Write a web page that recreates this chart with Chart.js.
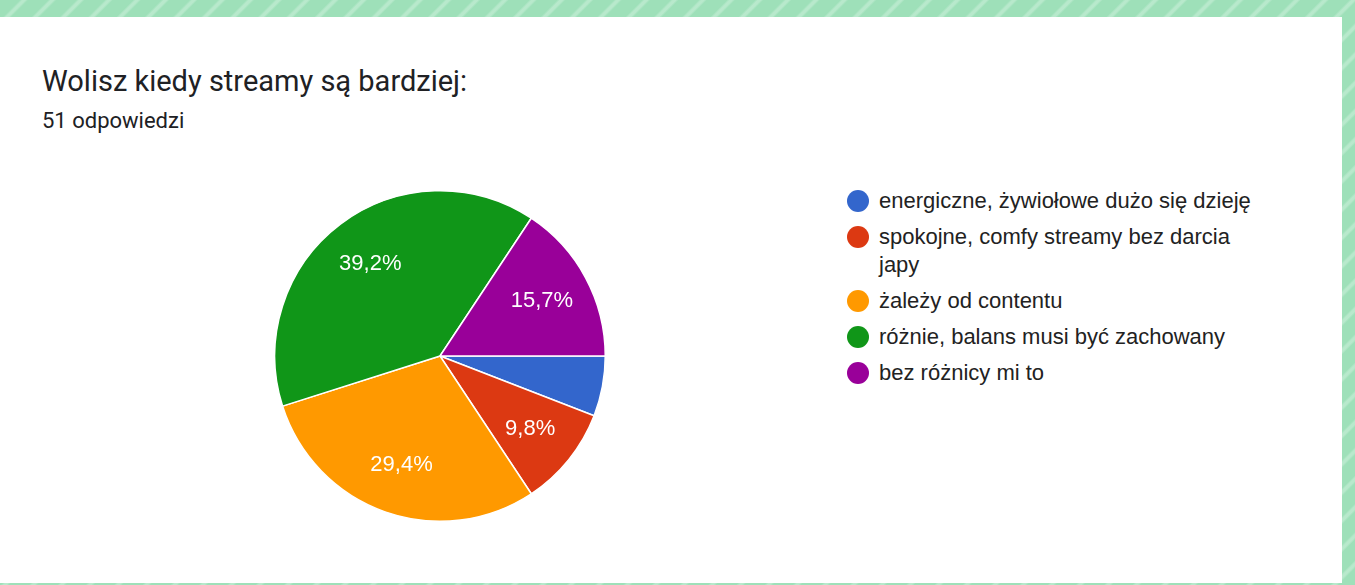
<!DOCTYPE html>
<html>
<head>
<meta charset="utf-8">
<script src="https://cdn.jsdelivr.net/npm/chart.js@4"></script>
<style>
html,body{margin:0;padding:0;}
body{
width:1355px;height:585px;overflow:hidden;position:relative;
background:#9ee0b9 repeating-linear-gradient(135deg,#9ee0b9 0px,#9ee0b9 14px,#b8e9cc 16px,#b8e9cc 18px,#9ee0b9 20px);
}
#card{position:absolute;left:0;top:17px;width:1342px;height:566px;background:#fff;}
#title{position:absolute;left:42px;top:67px;font-family:Roboto,"Noto Sans",sans-serif;font-size:29px;line-height:1;color:#202124;white-space:nowrap;}
#sub{position:absolute;left:42px;top:110px;font-family:Roboto,"Noto Sans",sans-serif;font-size:22px;line-height:1;color:#202124;white-space:nowrap;}
#wrap{position:absolute;left:274px;top:190px;width:332px;height:332px;}
#legend{position:absolute;left:847px;top:187px;width:415px;font-family:"Liberation Sans",Arial,sans-serif;font-size:22px;color:#222;}
.item{position:relative;padding-left:32px;line-height:28px;margin-bottom:8px;}
.dot{position:absolute;left:0;top:3px;width:22px;height:22px;border-radius:50%;}
</style>
</head>
<body>
<div id="card"></div>
<div id="title">Wolisz kiedy streamy są bardziej:</div>
<div id="sub">51 odpowiedzi</div>
<div id="wrap"><canvas id="pie"></canvas></div>
<div id="legend"></div>
<script>
let labels = [
"energiczne, żywiołowe dużo się dzieję",
"spokojne, comfy streamy bez darcia japy",
"żależy od contentu",
"różnie, balans musi być zachowany",
"bez różnicy mi to"
];
let counts = [3,5,15,20,8];
let colors = ["#3366cc","#dc3912","#ff9900","#109618","#990099"];

let total = counts.reduce((a,b)=>a+b,0);

function pct(v){
return (v/total*100).toFixed(1).replace(".",",")+"%";
}

// percent text inside the slices, like google charts
const sliceText = {
id:"sliceText",
afterDatasetsDraw(chart){
let ctx = chart.ctx;
let meta = chart.getDatasetMeta(0);
ctx.save();
ctx.font = "22px 'Liberation Sans', Arial, sans-serif";
ctx.fillStyle = "#fff";
ctx.textAlign = "center";
ctx.textBaseline = "middle";
meta.data.forEach((arc,i)=>{
if(counts[i]/total < 0.07) return;
let p = arc.getProps(["x","y","startAngle","endAngle","outerRadius"],true);
let mid = (p.startAngle+p.endAngle)/2;
let r = p.outerRadius*0.7;
ctx.fillText(pct(counts[i]), p.x+Math.cos(mid)*r, p.y+Math.sin(mid)*r);
});
ctx.restore();
}
};

new Chart(document.getElementById("pie"),{
type:"pie",
data:{
labels:labels,
datasets:[{data:counts,backgroundColor:colors,borderColor:"#fff",borderWidth:1.5}]
},
options:{
responsive:true,
maintainAspectRatio:false,
animation:false,
rotation:90,
layout:{padding:0},
plugins:{legend:{display:false},tooltip:{enabled:false}}
},
plugins:[sliceText]
});

let lg = document.getElementById("legend");
labels.forEach((t,i)=>{
let d = document.createElement("div");
d.className = "item";
d.innerHTML = '<span class="dot" style="background:'+colors[i]+'"></span>';
d.appendChild(document.createTextNode(t));
lg.appendChild(d);
});
</script>
</body>
</html>
